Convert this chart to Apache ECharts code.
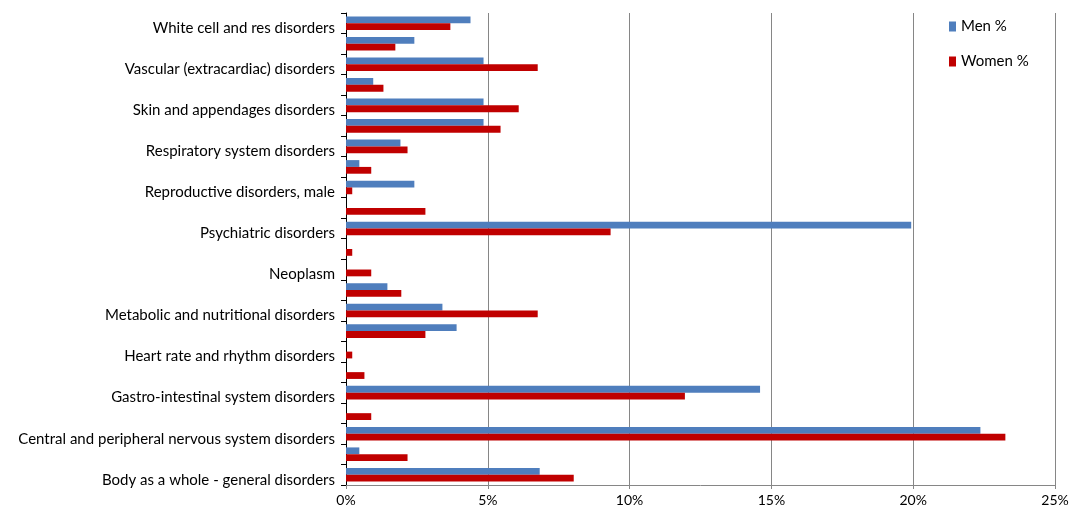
<!DOCTYPE html>
<html>
<head>
<meta charset="utf-8">
<script src="https://cdn.jsdelivr.net/npm/echarts@6/dist/echarts.min.js"></script>
<style>
  html, body { margin: 0; padding: 0; background: #fff; }
  #chart { width: 1072px; height: 510px; }
</style>
</head>
<body>
<div id="chart"></div>
<script>
// categories, bottom to top (only every other one gets a label)
const categories = [
  'Body as a whole - general disorders',
  'Cardiovascular disorders, general',
  'Central and peripheral nervous system disorders',
  'Endocrine disorders',
  'Gastro-intestinal system disorders',
  'Hearing and vestibular disorders',
  'Heart rate and rhythm disorders',
  'Liver and biliary system disorders',
  'Metabolic and nutritional disorders',
  'Musculo-skeletal system disorders',
  'Neoplasm',
  'Platelet, bleeding and clotting disorders',
  'Psychiatric disorders',
  'Reproductive disorders, female',
  'Reproductive disorders, male',
  'Resistance mechanism disorders',
  'Respiratory system disorders',
  'Secondary terms',
  'Skin and appendages disorders',
  'Urinary system disorders',
  'Vascular (extracardiac) disorders',
  'Vision disorders',
  'White cell and res disorders'
];

const menPct = [6.83, 0.47, 22.37, 0, 14.6, 0, 0, 3.9, 3.4, 1.46, 0, 0, 19.93, 0, 2.41, 0.47, 1.92, 4.85, 4.85, 0.96, 4.85, 2.41, 4.39];
const womenPct = [8.03, 2.17, 23.25, 0.89, 11.95, 0.65, 0.22, 2.8, 6.76, 1.95, 0.89, 0.22, 9.33, 2.8, 0.22, 0.89, 2.17, 5.45, 6.09, 1.32, 6.76, 1.74, 3.68];

const chart = echarts.init(document.getElementById('chart'));
const font = 'Lato, "Open Sans", sans-serif';

chart.setOption({
  animation: false,
  textStyle: { fontFamily: font },
  legend: {
    orient: 'vertical',
    left: 944,
    top: 14,
    icon: 'rect',
    itemWidth: 7,
    itemHeight: 10,
    itemGap: 20,
    data: ['Men %', 'Women %'],
    textStyle: { fontSize: 15, color: '#000', fontFamily: font }
  },
  grid: { left: 346, right: 17, top: 13, bottom: 25 },
  xAxis: {
    type: 'value',
    min: 0,
    max: 25,
    interval: 5,
    axisLine: { show: true, lineStyle: { color: '#868686', width: 1 } },
    axisTick: { show: true, length: 4, lineStyle: { color: '#868686' } },
    axisLabel: { formatter: '{value}%', fontSize: 14, color: '#000', margin: 8 },
    splitLine: { show: true, lineStyle: { color: '#868686', width: 1 } }
  },
  yAxis: {
    type: 'category',
    data: categories,
    axisLine: { show: true, lineStyle: { color: '#000', width: 1 } },
    axisTick: { show: true, interval: 0, length: 5, lineStyle: { color: '#000' } },
    axisLabel: {
      interval: 1,
      margin: 11,
      // labels sit a little below the bar pair, like the original
      formatter: (v) => '{t|' + v + '}',
      rich: {
        t: { fontSize: 15, color: '#000', fontFamily: font, padding: [10, 0, 0, 0] }
      }
    }
  },
  series: [
    {
      name: 'Men %',
      type: 'bar',
      data: menPct,
      barWidth: 6.8,
      barGap: '0%',
      itemStyle: { color: '#4F7EBD' }
    },
    {
      name: 'Women %',
      type: 'bar',
      data: womenPct,
      barWidth: 6.8,
      barGap: '0%',
      itemStyle: { color: '#C00000' }
    }
  ]
});
</script>
</body>
</html>
